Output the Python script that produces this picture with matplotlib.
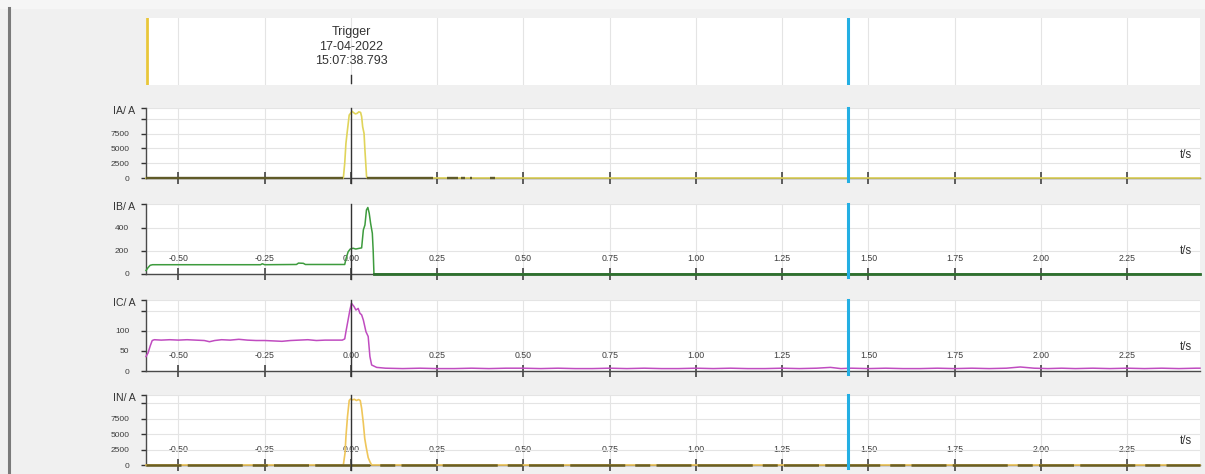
import matplotlib
matplotlib.use("Agg")
import matplotlib.pyplot as plt
from matplotlib.lines import Line2D
from matplotlib.patches import Rectangle

plt.rcParams["font.family"] = ["Liberation Sans", "DejaVu Sans"]

W, H, DPI = 1205, 474, 100

# ---------------- data ----------------
T_MIN, T_MAX = -0.594, 2.461
x_ticks = [-0.50, -0.25, 0.00, 0.25, 0.50, 0.75, 1.00, 1.25, 1.50, 1.75, 2.00, 2.25]
x_tick_labels = ["-0.50", "-0.25", "0.00", "0.25", "0.50", "0.75",
                 "1.00", "1.25", "1.50", "1.75", "2.00", "2.25"]

trigger_t = 0.0
trigger_text = ["Trigger", "17-04-2022", "15:07:38.793"]
cursor_left_t = -0.592
cursor_right_t = 1.441

# phase A current
ia_t = [-0.594, -0.022, -0.018, -0.0145, -0.0107, -0.005, -0.001, 0.003, 0.008,
        0.013, 0.018, 0.023, 0.028, 0.031, 0.034, 0.038, 0.0406, 0.0454, 0.048, 2.461]
ia_v = [0, 0, 2500, 5850, 7820, 10660, 10950, 11300, 11050,
        10850, 10950, 11200, 11100, 10400, 8670, 7550, 4710, 170, 0, 0]
ia_ticks = [0, 2500, 5000, 7500, 10000]
ia_tick_labels = ["0", "2500", "5000", "7500", ""]
ia_top = 11850
ia_noise_spans = [(-0.594, -0.022), (0.048, 0.239), (0.277, 0.311),
                  (0.320, 0.330), (0.345, 0.350), (0.403, 0.417)]

# phase B current
ib_t = [-0.594, -0.588, -0.582, -0.575, -0.262, -0.257, -0.250, -0.158, -0.152,
        -0.138, -0.132, -0.018, -0.014, -0.008, -0.002, 0.006, 0.014, 0.022,
        0.031, 0.036, 0.0406, 0.045, 0.049, 0.053, 0.057, 0.062, 0.0645, 0.0667, 2.461]
ib_v = [30, 55, 75, 80, 80, 88, 80, 82, 94,
        92, 82, 82, 135, 192, 215, 222, 215, 220,
        225, 380, 422, 552, 573, 523, 437, 351, 200, 0, 0]
ib_ticks = [0, 200, 400]
ib_tick_labels = ["0", "200", "400"]
ib_top = 603

# phase C current
ic_t = [-0.594, -0.588, -0.582, -0.576, -0.570, -0.55, -0.525, -0.50, -0.475, -0.45,
        -0.425, -0.41, -0.395, -0.375, -0.35, -0.325, -0.30, -0.275, -0.25, -0.225,
        -0.20, -0.175, -0.15, -0.125, -0.10, -0.075, -0.05, -0.025, -0.018, -0.0145,
        -0.010, -0.003, 0.0015, 0.005, 0.0087, 0.0145, 0.021, 0.026, 0.031, 0.036,
        0.0435, 0.05, 0.055, 0.060, 0.0745, 0.10, 0.15, 0.20, 0.25, 0.30,
        0.35, 0.40, 0.45, 0.50, 0.55, 0.60, 0.65, 0.70, 0.75, 0.80,
        0.85, 0.90, 0.95, 1.00, 1.05, 1.10, 1.15, 1.20, 1.25, 1.30,
        1.35, 1.39, 1.42, 1.45, 1.50, 1.55, 1.60, 1.65, 1.70, 1.75,
        1.80, 1.85, 1.90, 1.94, 1.98, 2.02, 2.06, 2.10, 2.15, 2.20,
        2.25, 2.30, 2.35, 2.40, 2.45, 2.461]
ic_v = [36, 45, 62, 76, 78, 77, 78, 77, 78, 77,
        76, 73, 76, 78, 77, 79, 77, 76, 76, 75,
        74, 76, 77, 78, 76, 77, 77, 77, 80, 98,
        119, 152, 169, 165, 161, 152, 156, 144, 140, 127,
        98, 86, 36, 15, 9, 7, 6, 7, 6, 6,
        7, 6, 7, 7, 6, 7, 6, 6, 7, 6,
        7, 6, 6, 7, 6, 7, 6, 6, 7, 6,
        7, 9, 6, 7, 6, 7, 6, 6, 7, 6,
        7, 6, 7, 10, 7, 6, 7, 6, 7, 6,
        7, 6, 7, 6, 7, 7]
ic_ticks = [0, 50, 100, 150]
ic_tick_labels = ["0", "50", "100", ""]
ic_top = 177

# neutral current
in_t = [-0.594, -0.022, -0.017, -0.0145, -0.010, -0.005, -0.001, 0.004, 0.010,
        0.016, 0.022, 0.027, 0.031, 0.036, 0.040, 0.044, 0.050, 0.055, 0.060, 2.461]
in_v = [0, 0, 2000, 4580, 7830, 10450, 10700, 10550, 10650,
        10450, 10600, 10450, 9190, 6750, 4300, 2960, 1200, 530, 0, 0]
in_ticks = [0, 2500, 5000, 7500, 10000]
in_tick_labels = ["0", "2500", "5000", "7500", ""]
in_top = 11340

# ---------------- layout helpers ----------------
X0, X1 = 146, 1200


def px_axes(top, bottom):
    return fig.add_axes([X0 / W, 1 - bottom / H, (X1 - X0) / W, (bottom - top) / H])


fig = plt.figure(figsize=(W / DPI, H / DPI), dpi=DPI, facecolor="#f0f0f0")

# window frame on the left
fig.add_artist(Rectangle((0, 1 - 8 / H), 1, 8 / H, transform=fig.transFigure,
                         color="#f6f6f6", zorder=0))
fig.add_artist(Line2D([9 / W, 9 / W], [0, 1 - 8 / H], transform=fig.transFigure,
                      color="#7a7a7a", lw=2.2))

GRID = "#e4e4e4"
AXC = "#4a4a4a"
BLUE = "#24afe3"
TXT = "#333333"

# ---------------- trigger strip ----------------
top_ax = px_axes(18, 85)
top_ax.set_facecolor("white")
top_ax.set_xlim(T_MIN, T_MAX)
top_ax.set_ylim(0, 1)
for s in top_ax.spines.values():
    s.set_visible(False)
top_ax.set_xticks(x_ticks)
top_ax.set_yticks([])
top_ax.tick_params(axis="x", length=0, labelbottom=False)
top_ax.grid(True, axis="x", color=GRID, lw=0.8)
top_ax.axvline(cursor_left_t, color="#e8c63a", lw=2.0)
top_ax.axvline(cursor_right_t, color=BLUE, lw=2.2)
for txt, yf in zip(trigger_text, [0.787, 0.572, 0.358]):
    top_ax.text(trigger_t, yf, txt, ha="center", va="center", fontsize=9.0, color=TXT)
top_ax.plot([trigger_t, trigger_t], [0.03, 0.15], color=TXT, lw=1.0)

# ---------------- current panels ----------------
panels = [
    dict(top=108, bottom=178, t=ia_t, v=ia_v, ymax=ia_top, ticks=ia_ticks,
         labels=ia_tick_labels, unit="IA/ A", color="#e0d45a", xlabels=False),
    dict(top=204, bottom=274, t=ib_t, v=ib_v, ymax=ib_top, ticks=ib_ticks,
         labels=ib_tick_labels, unit="IB/ A", color="#3d9b3d", xlabels=True),
    dict(top=300, bottom=371, t=ic_t, v=ic_v, ymax=ic_top, ticks=ic_ticks,
         labels=ic_tick_labels, unit="IC/ A", color="#c04cc0", xlabels=True),
    dict(top=395, bottom=465, t=in_t, v=in_v, ymax=in_top, ticks=in_ticks,
         labels=in_tick_labels, unit="IN/ A", color="#efc65a", xlabels=True),
]

axes = []
for p in panels:
    ax = px_axes(p["top"], p["bottom"])
    axes.append(ax)
    ax.set_facecolor("white")
    ax.set_xlim(T_MIN, T_MAX)
    ax.set_ylim(0, p["ymax"])
    ax.set_axisbelow(True)
    for side in ("top", "right"):
        ax.spines[side].set_visible(False)
    for side in ("left", "bottom"):
        ax.spines[side].set_color(AXC)
        ax.spines[side].set_linewidth(1.0)

    ax.set_xticks(x_ticks)
    ax.set_xticklabels(x_tick_labels)
    ax.tick_params(axis="x", direction="inout", length=8, width=1.1, color=TXT,
                   labelsize=6.3, labelcolor="#3c3c3c", pad=-18.5,
                   labelbottom=p["xlabels"])

    ax.set_yticks(p["ticks"] + [p["ymax"]])
    ax.set_yticklabels(p["labels"] + [""])
    ax.tick_params(axis="y", direction="out", length=3.6, width=1.0, color=TXT,
                   labelsize=6.0, labelcolor="#3c3c3c", pad=8.5)

    ax.grid(True, color=GRID, lw=0.8)

    ax.text(-10.5 / (X1 - X0), 0.96, p["unit"], transform=ax.transAxes,
            ha="right", va="center", fontsize=7.6, color=TXT)
    ax.text((1185.5 - X0) / (X1 - X0), 23.5 / (p["bottom"] - p["top"]), "t/s",
            transform=ax.transAxes, ha="center", va="center", fontsize=8.3,
            color=TXT)

    ax.axvline(trigger_t, ymin=-0.07, ymax=1.0, color=TXT, lw=1.0, clip_on=False,
               zorder=4)
    ax.axvline(cursor_right_t, ymin=-0.04, ymax=1.0, color=BLUE, lw=2.2, clip_on=False,
               zorder=5)

ax_a, ax_b, ax_c, ax_n = axes

# phase A
ax_a.plot(ia_t, ia_v, color=panels[0]["color"], lw=1.2, clip_on=False, zorder=3)
ax_a.hlines([0] * len(ia_noise_spans), [s[0] for s in ia_noise_spans],
            [s[1] for s in ia_noise_spans], color="#5f5a28", lw=1.7, zorder=3,
            clip_on=False)

# phase B
ax_b.plot(ib_t, ib_v, color=panels[1]["color"], lw=1.1, clip_on=False, zorder=3)
ax_b.plot([ib_t[-2], ib_t[-1]], [0, 0], color="#2f6f2f", lw=2.0, clip_on=False, zorder=3)

# phase C
ax_c.plot(ic_t, ic_v, color=panels[2]["color"], lw=1.1, clip_on=False, zorder=3)

# neutral
ax_n.plot(in_t, in_v, color=panels[3]["color"], lw=1.2, clip_on=False, zorder=3)
ax_n.plot([T_MIN, T_MAX], [0, 0], color="#6a5e22", lw=1.8, clip_on=False, zorder=3,
          dashes=(14, 2.5, 22, 4, 6, 2.5))

fig.savefig("out.png", dpi=DPI, facecolor=fig.get_facecolor())
